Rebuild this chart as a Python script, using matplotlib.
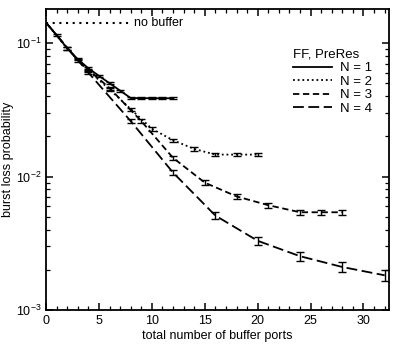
from matplotlib import pyplot as plt
from matplotlib.ticker import MultipleLocator, LogLocator, NullFormatter
import numpy as np

plt.rcParams['font.family'] = ['Liberation Sans', 'DejaVu Sans']

# N = 1 .. 4, FF PreRes
x1 = [0, 1, 2, 3, 4, 5, 6, 7, 8, 9, 10, 11, 12]
y1 = [0.142, 0.1147, 0.0913, 0.0756, 0.0647, 0.0568, 0.050, 0.044, 0.0387, 0.0387, 0.0386, 0.0386, 0.0386]
e1 = [0, 0.02, 0.02, 0.02, 0.02, 0.02, 0.02, 0.02, 0.02, 0.02, 0.02, 0.02, 0.02]

x2 = [0, 2, 4, 6, 8, 10, 12, 14, 16, 18, 20]
y2 = [0.142, 0.091, 0.062, 0.045, 0.032, 0.0228, 0.0187, 0.0161, 0.0146, 0.0146, 0.0146]
e2 = [0, 0.02, 0.02, 0.025, 0.025, 0.03, 0.03, 0.03, 0.03, 0.03, 0.03]

x3 = [0, 3, 6, 9, 12, 15, 18, 21, 24, 26, 28]
y3 = [0.142, 0.074, 0.046, 0.026, 0.0138, 0.009, 0.0071, 0.0061, 0.0054, 0.0054, 0.0054]
e3 = [0, 0.02, 0.025, 0.03, 0.035, 0.04, 0.04, 0.045, 0.045, 0.045, 0.045]

x4 = [0, 4, 8, 12, 16, 20, 24, 28, 32]
y4 = [0.142, 0.060, 0.026, 0.0107, 0.0051, 0.0033, 0.00253, 0.0021, 0.00182]
e4 = [0, 0.025, 0.03, 0.04, 0.06, 0.07, 0.08, 0.09, 0.09]

nobuf_x = [0, 8]
nobuf_y = [0.142, 0.142]

fig = plt.figure(figsize=(3.94, 3.46), dpi=100)
ax = fig.add_axes([0.117, 0.104, 0.870, 0.870])

styles = [('N = 1', x1, y1, e1, '-'),
          ('N = 2', x2, y2, e2, (0, (1, 1.6))),
          ('N = 3', x3, y3, e3, (0, (3.5, 2))),
          ('N = 4', x4, y4, e4, (0, (6, 2.5)))]

for lab, x, y, e, ls in styles:
    x = np.array(x)
    y = np.array(y)
    e = np.array(e)
    ax.plot(x, y, color='black', lw=1.3, ls=ls, label=lab)
    ax.errorbar(x[1:], y[1:], yerr=y[1:] * e[1:], fmt='none', ecolor='black',
                elinewidth=1.0, capsize=2.8, capthick=1.0)

ax.plot(nobuf_x, nobuf_y, color='black', lw=1.5, ls=(0, (1, 2.2)))
ax.text(8.3, 0.142, 'no buffer', fontsize=9, va='center', ha='left')

ax.set_yscale('log')
ax.set_xlim(0, 32.4)
ax.set_ylim(1e-3, 0.18)
ax.xaxis.set_major_locator(MultipleLocator(5))
ax.xaxis.set_minor_locator(MultipleLocator(1))
ax.yaxis.set_minor_locator(LogLocator(base=10, subs=np.arange(2, 10)))
ax.yaxis.set_minor_formatter(NullFormatter())
ax.tick_params(which='both', direction='in', top=True, right=True, labelsize=9)
ax.tick_params(which='major', length=5, width=1.1)
ax.tick_params(which='minor', length=3, width=0.9)
for s in ax.spines.values():
    s.set_linewidth(1.3)

ax.set_xlabel('total number of buffer ports', fontsize=9, labelpad=2)
ax.set_ylabel('burst loss probability', fontsize=9)
ax.yaxis.set_label_coords(-0.093, 0.5)

leg = ax.legend(title='FF, PreRes', loc='upper left', bbox_to_anchor=(0.70, 0.89),
                frameon=False, fontsize=9.5, title_fontsize=9.5, alignment='left',
                handlelength=3.0, handletextpad=0.6, labelspacing=0.1, borderpad=0)

fig.savefig('out.png', dpi=100)
